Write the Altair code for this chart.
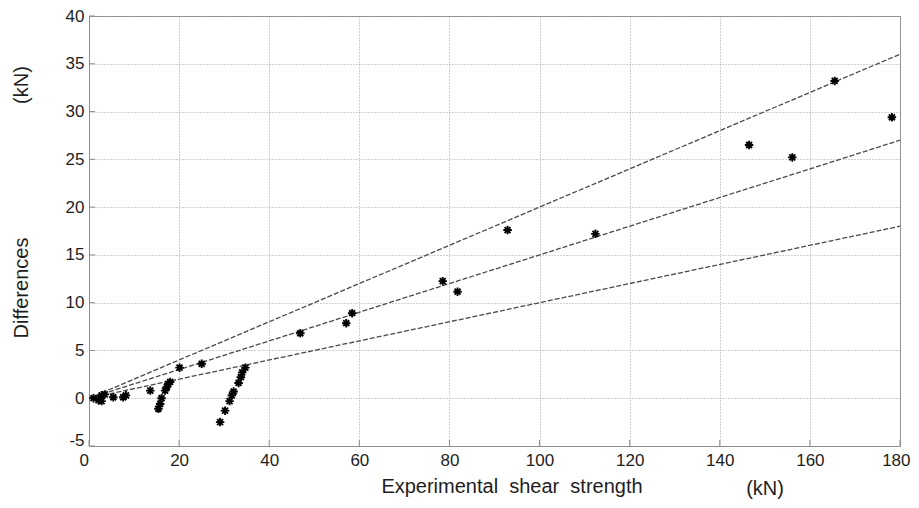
import altair as alt
import pandas as pd

# ---- data ----
exp_strength = [1.0, 2.1, 2.8, 2.8, 3.5, 5.4, 7.6, 8.2, 13.6, 15.4, 15.8, 16.1, 16.9,
                17.3, 17.6, 18.0, 20.1, 25.0, 29.1, 30.2, 31.2, 31.7, 32.1, 33.2, 33.7,
                34.0, 34.7, 46.9, 57.1, 58.4, 78.5, 81.8, 92.9, 112.4, 146.5, 156.1,
                165.5, 178.2]
differences = [0.0, -0.2, 0.3, -0.3, 0.4, 0.1, 0.1, 0.3, 0.8, -1.1, -0.6, 0.0, 0.8,
               1.2, 1.5, 1.7, 3.2, 3.6, -2.5, -1.3, -0.3, 0.3, 0.7, 1.6, 2.2,
               2.7, 3.2, 6.8, 7.85, 8.9, 12.25, 11.15, 17.6, 17.2, 26.5, 25.2,
               33.2, 29.4]

line_names = ["20%", "15%", "10%"]
line_start_x = [0, 0, 0]
line_start_y = [0, 0, 0]
line_end_x = [180, 180, 180]
line_end_y = [36, 27, 18]

x_ticks = [0, 20, 40, 60, 80, 100, 120, 140, 160, 180]
y_ticks = [-5, 0, 5, 10, 15, 20, 25, 30, 35, 40]

x_title = "Experimental\u00a0\u00a0shear\u00a0\u00a0strength"
y_title = "Differences"
unit_text = "(kN)"

# ---- tables ----
pts = pd.DataFrame({"x": exp_strength, "y": differences})
lines_df = pd.DataFrame({
    "name": line_names + line_names,
    "x": line_start_x + line_end_x,
    "y": line_start_y + line_end_y,
})
xt_df = pd.DataFrame({"x": x_ticks})
yt_df = pd.DataFrame({"y": y_ticks})

W, H = 811, 430
FONT = "Liberation Sans"
TXT = "#1e1e1e"
FRAME = "#8c8c8c"

xs = alt.Scale(domain=[0, 180], nice=False, zero=False)
ys = alt.Scale(domain=[-5, 40], nice=False, zero=False)

xaxis = alt.Axis(values=x_ticks, title=None, grid=True, ticks=False,
                 labelFlush=True, labelFlushOffset=10, labelPadding=6, format="d")
yaxis = alt.Axis(values=y_ticks, title=None, grid=True, ticks=False,
                 labelPadding=5, format="d",
                 labelExpr="replace(datum.label, '\u2212', '-')",
                 labelBaseline={"expr": "datum.value == -5 ? 'alphabetic' : 'middle'"},
                 labelOffset={"expr": "datum.value == -5 ? -1 : 0"})

asterisk = ("M -1 0 L 1 0 M 0 -1 L 0 1 "
            "M -0.7 -0.7 L 0.7 0.7 M -0.7 0.7 L 0.7 -0.7")

lines = alt.Chart(lines_df).mark_line(
    color="#4a4a4a", strokeWidth=1.3, strokeDash=[5, 2]
).encode(
    x=alt.X("x:Q", scale=xs, axis=xaxis),
    y=alt.Y("y:Q", scale=ys, axis=yaxis),
    detail="name:N",
)

points = alt.Chart(pts).mark_point(
    shape=asterisk, filled=False, stroke="black", strokeWidth=1.9, size=72, opacity=1
).encode(
    x=alt.X("x:Q", scale=xs),
    y=alt.Y("y:Q", scale=ys),
)

xticks = alt.Chart(xt_df).mark_rule(color=FRAME, strokeWidth=1).encode(
    x=alt.X("x:Q", scale=xs),
    y=alt.value(H),
    y2=alt.value(H - 6),
)
yticks = alt.Chart(yt_df).mark_rule(color=FRAME, strokeWidth=1).encode(
    y=alt.Y("y:Q", scale=ys),
    x=alt.value(0),
    x2=alt.value(6),
)


def label(txt, x, y, angle=0, baseline="alphabetic"):
    return alt.Chart(pd.DataFrame({"t": [txt]})).mark_text(
        font=FONT, fontSize=20, color=TXT, angle=angle,
        align="center", baseline=baseline
    ).encode(x=alt.value(x), y=alt.value(y), text="t:N")


xt1 = label(x_title, 423, 477)
xt2 = label(unit_text, 676, 479)
yt1 = label(y_title, -67, 272, angle=270, baseline="middle")
yt2 = label(unit_text, -67, 69, angle=270, baseline="middle")

chart = alt.layer(lines, xticks, yticks, points, xt1, xt2, yt1, yt2).properties(
    width=W, height=H,
    autosize=alt.AutoSizeParams(type="none"),
    padding={"left": 81, "top": 8, "right": 11, "bottom": 54},
    background="white",
).configure_view(
    stroke=FRAME, strokeWidth=1
).configure_axis(
    labelFont=FONT, labelFontSize=17, labelColor=TXT,
    domainColor=FRAME, domainWidth=1,
    gridColor="#a0a0a0", gridDash=[1, 2], gridWidth=1, gridOpacity=1,
)

chart.save("out.html", embed_options={"renderer": "svg", "actions": False})
